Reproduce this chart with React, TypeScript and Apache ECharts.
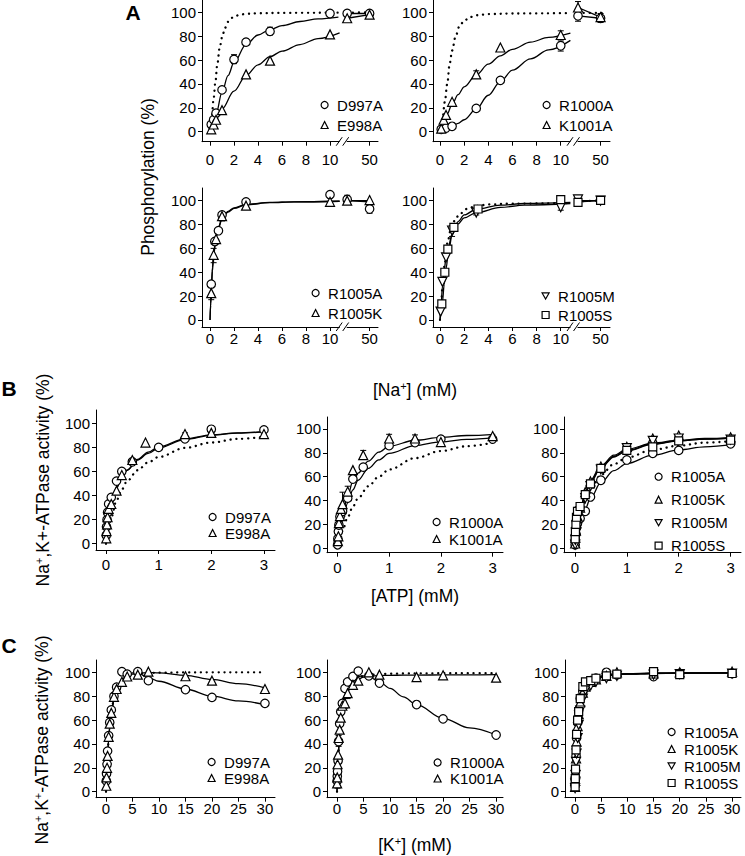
import React, { useEffect, useRef } from 'react';
import * as echarts from 'echarts';

// ---------------- tick values ----------------
const pctTicks = [0, 20, 40, 60, 80, 100];
const naTicks = [0, 2, 4, 6, 8, 10, 50];
const atpTicks = [0, 1, 2, 3];
const kTicks = [0, 5, 10, 15, 20, 25, 30];

// ---------------- Panel A : phosphorylation vs [Na+] ----------------
// A1
const a1D997A_x = [0.1, 0.3, 0.5, 1, 2, 3, 5, 10, 20, 50];
const a1D997A_y = [6, 10, 15.5, 35, 60.5, 75, 84, 99, 99, 99];
const a1E998A_x = [0.1, 0.3, 0.5, 1, 3, 5, 10, 20, 50];
const a1E998A_y = [2, 6, 10, 18, 48, 59.5, 81.5, 95, 98];
const a1FitD997A_x = [0, 0.1, 0.5, 1, 1.5, 2, 3, 4, 5, 6, 7.5, 9, 10.7];
const a1FitD997A_y = [5, 6.5, 15, 33, 47, 58, 73, 81, 85.5, 88.8, 92.3, 94.5, 96];
const a1TailD997A_x = [20, 50];
const a1TailD997A_y = [99, 99];
const a1FitE998A_x = [0, 0.5, 1, 2, 3, 4, 5, 6, 7.5, 9, 10.8];
const a1FitE998A_y = [2, 10, 19, 34, 47, 56, 62.8, 67.5, 73, 78, 82.8];
const a1TailE998A_x = [20, 50];
const a1TailE998A_y = [95, 98];
const a1WT_x = [0, 0.15, 0.3, 0.45, 0.6, 0.8, 1, 1.25, 1.5, 2, 2.5, 3, 4, 6, 10.8];
const a1WT_y = [0, 13, 28, 42, 56, 70, 79, 87, 92, 96.5, 98, 98.7, 99.2, 99.5, 99.7];
const a1TailWT_x = [20, 50, 58];
const a1TailWT_y = [99.7, 100, 100];
// error bars [x, low, high]
const a1Err = [[2, 57, 64.5], [3, 72.5, 77.5], [5, 81, 87.5], [50, 96, 100.5]];

// A2
const a2R1000A_x = [0.1, 0.5, 1, 3, 5, 10, 20, 50];
const a2R1000A_y = [2, 3, 4.5, 19.5, 43, 72, 97, 95];
const a2K1001A_x = [0.1, 0.3, 0.5, 1, 3, 5, 10, 20, 50];
const a2K1001A_y = [2.5, 10, 14, 25, 48, 70.5, 81, 104, 96];
const a2FitR1000A_x = [0, 0.5, 1, 1.5, 2, 3, 4, 5, 6, 7.5, 9, 10.8];
const a2FitR1000A_y = [1.5, 2.5, 4.5, 7, 10, 19, 30.5, 42, 51.5, 61, 68.5, 76.5];
const a2TailR1000A_x = [20, 50];
const a2TailR1000A_y = [97, 95];
const a2FitK1001A_x = [0, 0.3, 0.6, 1, 1.5, 2, 3, 4, 5, 6, 7.5, 9, 10.8];
const a2FitK1001A_y = [2, 9, 15, 23, 31, 37.5, 47.5, 56.5, 63.5, 69, 75, 79, 82.5];
const a2TailK1001A_x = [20, 50];
const a2TailK1001A_y = [104, 96];
const a2WT_x = [0, 0.2, 0.4, 0.6, 0.8, 1, 1.3, 1.6, 2, 2.5, 3, 4, 6, 10.8];
const a2WT_y = [0, 10, 25, 40, 57, 68, 80, 88, 93, 96, 97.5, 98.5, 99, 99.3];
const a2TailWT_x = [20, 50, 58];
const a2TailWT_y = [99.5, 99.5, 99.5];
const a2Err = [[10, 67.5, 76], [10, 77.5, 84.5], [3, 45, 51], [20, 92.5, 101], [20, 99, 109], [50, 91.5, 99]];

// A3
const a3R1005A_x = [0.1, 0.4, 0.7, 1, 3, 10, 20, 50];
const a3R1005A_y = [30, 65.8, 74.8, 88, 98.9, 105, 101, 93];
const a3R1005K_x = [0.1, 0.3, 0.5, 1, 3, 10, 20, 50];
const a3R1005K_y = [22.5, 54.6, 67.8, 87, 95.8, 99, 100, 100.5];
const a3Fit_x = [0, 0.05, 0.1, 0.2, 0.3, 0.5, 0.7, 1, 1.5, 2, 3, 5, 7, 10.8];
const a3FitR1005A_y = [0, 14, 26, 44, 56, 70, 78, 85, 91, 94, 97, 98.5, 99, 99.5];
const a3FitR1005K_y = [0, 12, 23, 41, 54, 69, 77, 84.5, 90.5, 93.5, 96.5, 98.3, 99, 99.5];
const a3Tail_x = [20, 50];
const a3TailR1005A_y = [100, 99];
const a3TailR1005K_y = [100, 100];
const a3Err = [[0.1, 17, 27], [0.3, 48, 60], [1, 83, 90], [20, 97, 104.5], [50, 89.5, 96]];

// A4
const a4R1005M_x = [0.05, 0.2, 0.5, 1, 3, 10, 20, 50];
const a4R1005M_y = [7, 32, 52.5, 75, 90, 94.5, 101, 100];
const a4R1005S_x = [0.15, 0.4, 0.65, 1.15, 3.15, 10, 20, 50];
const a4R1005S_y = [13.4, 40, 59.4, 77.6, 93, 100.8, 98.6, 100.3];
const a4Fit_x = [0, 0.1, 0.2, 0.35, 0.5, 0.7, 1, 1.5, 2, 3, 5, 7, 10.8];
const a4FitR1005M_y = [0, 14, 28, 42, 52, 62, 72, 80.5, 85.5, 90, 94.3, 96.3, 97.6];
const a4FitR1005S_y = [0, 6, 15, 30, 43, 57, 71, 82.5, 88, 92.8, 96.2, 97.6, 98.5];
const a4WT_x = [0, 0.1, 0.2, 0.4, 0.6, 0.9, 1.2, 1.6, 2.2, 3, 4, 6, 10.8];
const a4WT_y = [0, 14, 28, 48, 64, 76, 83, 88.5, 93, 95.5, 96.8, 97.5, 98];
const a4Tail_x = [20, 50];
const a4TailR1005M_y = [100, 100];
const a4TailR1005S_y = [99, 100];
const a4TailWT_x = [20, 50, 58];
const a4TailWT_y = [99.5, 100, 100];
const a4Err = [[1, 70, 79], [3, 88, 92], [10, 92, 97.5], [20, 96, 104]];

// ---------------- Panel B : activity vs [ATP] ----------------
const atpConc = [0.005, 0.01, 0.02, 0.03, 0.05, 0.1, 0.2, 0.3, 0.5, 1, 1.5, 2, 3];
const b1D997A_y = [7, 14, 20, 26, 33, 38.5, 52, 60, 68, 80, 87, 95, 94.5];
const b1E998A_x = [0.005, 0.01, 0.02, 0.03, 0.05, 0.1, 0.2, 0.3, 0.5, 0.75, 1.5, 2, 3];
const b1E998A_y = [4.5, 10.5, 16, 22, 29, 33, 44, 57, 69.5, 84, 91, 92, 91];
const bFit_x = [0, 0.05, 0.1, 0.2, 0.3, 0.4, 0.6, 0.8, 1, 1.5, 2, 2.5, 3.05];
const b1FitD997A_y = [0, 22, 33, 47, 55, 61, 69.5, 75, 79.5, 86.5, 90, 91.8, 93];
const b1FitE998A_y = [0, 20, 31, 46, 55, 61, 70, 76, 80.5, 87, 90.3, 92, 93.2];
const b1WT_y = [0, 12, 22, 36, 45, 52, 61, 67.5, 72, 79.5, 84, 87, 89];
const b1Err = [[0.005, 2, 7], [1.5, 86, 92], [2, 91, 97]];

const b2R1000A_y = [3, 8, 14, 19.5, 26.5, 31, 42, 58, 68, 86, 88.5, 91.5, 91.5];
const b2K1001A_x = [0.01, 0.02, 0.03, 0.05, 0.07, 0.1, 0.2, 0.3, 0.5, 1, 1.5, 2, 3];
const b2K1001A_y = [6, 10, 21, 27, 33, 37, 47.5, 65.5, 78, 92, 92, 89, 94];
const b2FitR1000A_y = [0, 13, 23, 38, 49, 57, 67, 74, 79.5, 86, 89.2, 91.3, 93];
const b2FitK1001A_y = [0, 16, 28, 44, 56, 63, 73, 80.5, 85.5, 90.5, 93, 94.5, 95.5];
const b2WT_y = [0, 8, 15, 26, 35, 42, 52, 60, 66, 75.5, 81.5, 85.5, 89];
const b2Err = [[0.1, 27, 47], [0.2, 42, 52], [0.5, 74.5, 82], [1, 88.5, 95.5], [1.5, 89, 95]];

const b3R1005A_y = [3, 7, 12, 17, 21, 25, 31, 43, 57, 74, 79.6, 82, 87.5];
const b3R1005K_y = [4, 9, 15, 21, 27, 34, 47, 56, 68.5, 85, 92, 94.5, 93];
const b3R1005M_y = [3, 7, 13, 19, 25, 31, 42, 52, 66, 84, 90, 92, 91];
const b3R1005S_y = [8, 14, 20, 26, 31, 35, 45, 54, 67, 82, 85, 90, 90.5];
const b3Fit_x = [0, 0.05, 0.1, 0.2, 0.3, 0.5, 0.75, 1, 1.5, 2, 2.5, 3.06];
const b3FitR1005A_y = [0, 11, 20, 33, 42, 55, 65, 71, 78, 82.5, 85, 87];
const b3FitR1005K_y = [0, 20, 32, 47, 57, 69, 78, 83, 88, 90.5, 92, 93];
const b3FitR1005M_y = [0, 18, 30, 45, 55, 67.5, 76.5, 81.5, 87, 90, 91.5, 92.5];
const b3FitR1005S_y = [0, 19, 31, 46, 56, 68, 77, 82, 87.5, 90, 91.5, 92.3];
const b3WT_y = [0, 14, 25, 39, 49, 61.5, 70.5, 76, 82.5, 86, 88.5, 90];

// ---------------- Panel C : activity vs [K+] ----------------
const c1Conc = [0.05, 0.1, 0.2, 0.3, 0.5, 0.7, 1, 1.5, 2, 3, 4, 6, 8, 15, 20, 30];
const c1D997A_y = [9, 15, 23, 34, 47, 58, 68.5, 80, 87.5, 100.5, 98.5, 100.5, 93, 85.5, 79, 74];
const c1E998A_y = [5, 12, 20, 30, 46, 57, 66, 79.5, 86, 92, 96.5, 98, 100.5, 96.7, 93, 86];
const cFit_x = [0, 0.25, 0.5, 0.75, 1, 1.5, 2, 3, 4, 5, 6, 8, 10, 15, 20, 25, 30];
const c1FitD997A_y = [0, 26, 44, 57, 66, 78, 85.5, 94, 98, 99.5, 99.3, 95.5, 92.5, 86, 80, 76, 73];
const c1FitE998A_y = [0, 25, 43, 56, 65, 77, 85, 93, 96.5, 98.5, 99.3, 99.8, 99.5, 97.5, 94, 90.5, 87];
const c1WT_y = [0, 25, 44, 57, 66, 78, 85.5, 93, 96.5, 98, 98.8, 99.5, 99.7, 99.9, 100, 100, 100];

const kConc = [0.02, 0.05, 0.1, 0.2, 0.3, 0.5, 0.7, 1, 1.5, 2, 3, 4, 6, 8, 15, 20, 30];
const c2R1000A_y = [9, 13, 17, 26, 42, 57, 67, 74, 86.5, 92, 96.5, 101, 97, 91, 73, 61, 47.5];
const c2K1001A_y = [7, 12, 23, 31, 45, 52, 62, 72, 74, 82.5, 89.5, 93, 100, 98, 96, 97.5, 95.5];
const c2Fit_x = [0, 0.25, 0.5, 0.75, 1, 1.5, 2, 3, 4, 5, 6, 8, 10, 12.5, 15, 20, 25, 30];
const c2FitR1000A_y = [0, 33, 52, 64, 72, 82, 88, 94, 96.5, 97, 96.3, 92, 86.5, 79.5, 73, 61.5, 53.5, 47.5];
const c2FitK1001A_y = [0, 30, 48, 60, 68.5, 78.5, 84.5, 91, 94.3, 96, 96.8, 97.3, 97.5, 97.6, 97.7, 97.8, 97.9, 98];
const c2WT_y = [0, 31, 50, 62, 70.5, 80.5, 86.5, 92.5, 95.5, 97, 97.8, 98.5, 98.8, 99, 99.1, 99.2, 99.3, 99.3];
const c2Err = [[0.1, 3, 12], [0.3, 38, 47], [1.5, 70, 78], [2, 78, 86]];

const c3R1005A_y = [5, 10, 18, 30, 45, 58, 68, 78, 84, 90, 93, 95, 100, 98, 96.5, 99, 99];
const c3R1005K_y = [4, 9, 16, 28, 42, 55, 65, 75, 83, 88, 92, 94, 97, 100, 99, 100, 100.5];
const c3R1005M_y = [3, 7, 14, 25, 32, 45, 56, 68, 78, 85, 89, 92, 95, 97, 98, 98.5, 99];
const c3R1005S_y = [4, 11, 19, 35, 48, 60, 67, 78, 88, 92, 93, 95, 97, 98.5, 100.5, 98, 99];
const c3Fit_x = [0, 0.25, 0.5, 0.75, 1, 1.5, 2, 3, 4, 6, 8, 10, 15, 20, 30];
const c3FitR1005A_y = [0, 33, 52, 64, 72, 82, 87.5, 93, 95.5, 97.5, 98.3, 98.7, 99.2, 99.4, 99.6];
const c3FitR1005K_y = [0, 31, 50, 62, 70.5, 80.5, 86.5, 92, 95, 97.3, 98.2, 98.6, 99.1, 99.3, 99.5];
const c3FitR1005M_y = [0, 29, 47, 59, 67.5, 78, 84.5, 91, 94.3, 97, 98, 98.5, 99, 99.2, 99.4];
const c3FitR1005S_y = [0, 34, 54, 66, 74, 83.5, 88.5, 93.5, 96, 97.8, 98.5, 98.8, 99.2, 99.4, 99.6];

// ---------------- rendering helpers ----------------
const FONT = "'Liberation Sans', Arial, Helvetica, sans-serif";

// broken [Na+] axis: 0-11 linear, then 20..50 compressed after the break
function naPos(x: number) {
  return x <= 11 ? x : 11.43 + (x - 20) * (1.87 / 30);
}
const ident = (x: number) => x;

const SYM_STYLE = { color: '#fff', borderColor: '#000', borderWidth: 1.2, opacity: 1 };
const ICON: Record<string, string> = {
  circle: 'circle',
  triangle: 'triangle',
  down: 'path://M0,0L10,0L5,8.7Z',
  rect: 'rect',
};

function pts(xs: number[], ys: number[], f: (x: number) => number) {
  return xs.map((x, i) => [f(x), ys[i]]);
}

function scatter(name: string, gi: number, xs: number[], ys: number[], sym: string, f = ident) {
  return {
    type: 'scatter',
    name,
    xAxisIndex: gi,
    yAxisIndex: gi,
    data: pts(xs, ys, f),
    symbol: sym === 'down' ? 'triangle' : sym,
    symbolRotate: sym === 'down' ? 180 : 0,
    symbolSize: sym === 'rect' ? 8 : sym === 'circle' ? 8.5 : 9,
    itemStyle: SYM_STYLE,
    z: 5,
    silent: true,
  };
}

function curve(gi: number, xs: number[], ys: number[], dotted = false, f = ident) {
  return {
    type: 'line',
    xAxisIndex: gi,
    yAxisIndex: gi,
    data: pts(xs, ys, f),
    showSymbol: false,
    symbol: 'none',
    smooth: 0.35,
    smoothMonotone: 'x',
    lineStyle: dotted
      ? { color: '#000', width: 2.3, type: [0.1, 5.8], cap: 'round' }
      : { color: '#000', width: 1.3 },
    z: 3,
    silent: true,
  };
}

function errorBars(gi: number, rows: number[][], f = ident) {
  return {
    type: 'custom',
    xAxisIndex: gi,
    yAxisIndex: gi,
    silent: true,
    z: 4,
    data: rows.map((r) => [f(r[0]), r[1], r[2]]),
    encode: { x: 0, y: [1, 2] },
    renderItem: (_params: any, api: any) => {
      const x = api.value(0);
      const lo = api.coord([x, api.value(1)]);
      const hi = api.coord([x, api.value(2)]);
      const st = { stroke: '#000', lineWidth: 1 };
      return {
        type: 'group',
        children: [
          { type: 'line', shape: { x1: lo[0], y1: lo[1], x2: hi[0], y2: hi[1] }, style: st },
          { type: 'line', shape: { x1: hi[0] - 3, y1: hi[1], x2: hi[0] + 3, y2: hi[1] }, style: st },
          { type: 'line', shape: { x1: lo[0] - 3, y1: lo[1], x2: lo[0] + 3, y2: lo[1] }, style: st },
        ],
      };
    },
  };
}

type Panel = {
  left: number; top: number; width: number; height: number;
  xMin: number; xMax: number; yMin: number; yMax: number;
  xTicks: number[]; xMargin: number; na?: boolean;
};

const panels: Panel[] = [
  { left: 202, top: 0, width: 176, height: 141.7, xMin: -0.67, xMax: 14, yMin: -8.4, yMax: 110.3, xTicks: naTicks, xMargin: 10, na: true },
  { left: 433, top: 0, width: 177, height: 141.7, xMin: -0.58, xMax: 14.08, yMin: -8.4, yMax: 110.3, xTicks: naTicks, xMargin: 10, na: true },
  { left: 202, top: 188, width: 176, height: 139, xMin: -0.67, xMax: 14, yMin: -5.9, yMax: 110.6, xTicks: naTicks, xMargin: 4, na: true },
  { left: 433, top: 188, width: 177, height: 139, xMin: -0.58, xMax: 14.08, yMin: -5.9, yMax: 110.6, xTicks: naTicks, xMargin: 4, na: true },
  { left: 96, top: 410, width: 179, height: 140, xMin: -0.19, xMax: 3.21, yMin: -5.2, yMax: 111, xTicks: atpTicks, xMargin: 7 },
  { left: 327, top: 417, width: 176, height: 135.7, xMin: -0.2, xMax: 3.2, yMin: -3.7, yMax: 110, xTicks: atpTicks, xMargin: 7 },
  { left: 564, top: 417, width: 177, height: 135.7, xMin: -0.21, xMax: 3.2, yMin: -3.7, yMax: 110, xTicks: atpTicks, xMargin: 7 },
  { left: 96, top: 660, width: 179, height: 137.7, xMin: -1.89, xMax: 31.9, yMin: -5, yMax: 110.3, xTicks: kTicks, xMargin: 3 },
  { left: 327, top: 660, width: 176, height: 137.7, xMin: -1.89, xMax: 31.3, yMin: -5, yMax: 110.3, xTicks: kTicks, xMargin: 3 },
  { left: 565, top: 660, width: 176, height: 137.7, xMin: -1.91, xMax: 31.7, yMin: -5, yMax: 110.3, xTicks: kTicks, xMargin: 3 },
];

const legends = [
  { x: 324, y: 105, gap: 20, items: [['D997A', 'circle'], ['E998A', 'triangle']] },
  { x: 546, y: 105, gap: 20, items: [['R1000A', 'circle'], ['K1001A', 'triangle']] },
  { x: 315, y: 293, gap: 20, items: [['R1005A', 'circle'], ['R1005K', 'triangle']] },
  { x: 545, y: 296, gap: 19, items: [['R1005M', 'down'], ['R1005S', 'rect']] },
  { x: 212, y: 517, gap: 16, items: [['D997A', 'circle'], ['E998A', 'triangle']] },
  { x: 436, y: 522, gap: 17, items: [['R1000A', 'circle'], ['K1001A', 'triangle']] },
  { x: 658, y: 476.7, gap: 23, items: [['R1005A', 'circle'], ['R1005K', 'triangle'], ['R1005M', 'down'], ['R1005S', 'rect']] },
  { x: 211, y: 762, gap: 16, items: [['D997A', 'circle'], ['E998A', 'triangle']] },
  { x: 437, y: 762.5, gap: 16, items: [['R1000A', 'circle'], ['K1001A', 'triangle']] },
  { x: 671, y: 732, gap: 17, items: [['R1005A', 'circle'], ['R1005K', 'triangle'], ['R1005M', 'down'], ['R1005S', 'rect']] },
];

const LEG_FONT = 15;
const LEG_H = 16;

function buildOption() {
  const grid = panels.map((p) => ({
    left: p.left, top: p.top, width: p.width, height: p.height,
    containLabel: false, outerBoundsMode: 'none',
  }));
  const xAxis = panels.map((p, i) => {
    const vals = p.na ? p.xTicks.map(naPos) : p.xTicks;
    return {
      type: 'value', gridIndex: i, min: p.xMin, max: p.xMax,
      axisLine: { show: true, onZero: false, lineStyle: { color: '#000', width: 1 } },
      axisTick: { show: true, length: 4, customValues: vals, lineStyle: { color: '#000', width: 1 } },
      axisLabel: {
        customValues: vals, color: '#000', fontSize: 15, fontFamily: FONT, margin: p.xMargin,
        formatter: (v: number) => (p.na && v > 11 ? '50' : String(Math.round(v))),
      },
      splitLine: { show: false },
    };
  });
  const yAxis = panels.map((p, i) => ({
    type: 'value', gridIndex: i, min: p.yMin, max: p.yMax,
    axisLine: { show: true, onZero: false, lineStyle: { color: '#000', width: 1 } },
    axisTick: { show: true, length: 4, customValues: pctTicks, lineStyle: { color: '#000', width: 1 } },
    axisLabel: { customValues: pctTicks, color: '#000', fontSize: 15, fontFamily: FONT, margin: 6 },
    splitLine: { show: false },
  }));

  const series: any[] = [
    // A1
    curve(0, a1WT_x, a1WT_y, true, naPos),
    curve(0, a1TailWT_x, a1TailWT_y, true, naPos),
    curve(0, a1FitD997A_x, a1FitD997A_y, false, naPos),
    curve(0, a1TailD997A_x, a1TailD997A_y, false, naPos),
    curve(0, a1FitE998A_x, a1FitE998A_y, false, naPos),
    curve(0, a1TailE998A_x, a1TailE998A_y, false, naPos),
    errorBars(0, a1Err, naPos),
    scatter('D997A', 0, a1D997A_x, a1D997A_y, 'circle', naPos),
    scatter('E998A', 0, a1E998A_x, a1E998A_y, 'triangle', naPos),
    // A2
    curve(1, a2WT_x, a2WT_y, true, naPos),
    curve(1, a2TailWT_x, a2TailWT_y, true, naPos),
    curve(1, a2FitR1000A_x, a2FitR1000A_y, false, naPos),
    curve(1, a2TailR1000A_x, a2TailR1000A_y, false, naPos),
    curve(1, a2FitK1001A_x, a2FitK1001A_y, false, naPos),
    curve(1, a2TailK1001A_x, a2TailK1001A_y, false, naPos),
    errorBars(1, a2Err, naPos),
    scatter('R1000A', 1, a2R1000A_x, a2R1000A_y, 'circle', naPos),
    scatter('K1001A', 1, a2K1001A_x, a2K1001A_y, 'triangle', naPos),
    // A3
    curve(2, a3Fit_x, a3FitR1005A_y, false, naPos),
    curve(2, a3Fit_x, a3FitR1005K_y, false, naPos),
    curve(2, a3Tail_x, a3TailR1005A_y, false, naPos),
    curve(2, a3Tail_x, a3TailR1005K_y, false, naPos),
    errorBars(2, a3Err, naPos),
    scatter('R1005A', 2, a3R1005A_x, a3R1005A_y, 'circle', naPos),
    scatter('R1005K', 2, a3R1005K_x, a3R1005K_y, 'triangle', naPos),
    // A4
    curve(3, a4WT_x, a4WT_y, true, naPos),
    curve(3, a4TailWT_x, a4TailWT_y, true, naPos),
    curve(3, a4Fit_x, a4FitR1005M_y, false, naPos),
    curve(3, a4Fit_x, a4FitR1005S_y, false, naPos),
    curve(3, a4Tail_x, a4TailR1005M_y, false, naPos),
    curve(3, a4Tail_x, a4TailR1005S_y, false, naPos),
    errorBars(3, a4Err, naPos),
    scatter('R1005M', 3, a4R1005M_x, a4R1005M_y, 'down', naPos),
    scatter('R1005S', 3, a4R1005S_x, a4R1005S_y, 'rect', naPos),
    // B1
    curve(4, bFit_x, b1WT_y, true),
    curve(4, bFit_x, b1FitD997A_y),
    curve(4, bFit_x, b1FitE998A_y),
    errorBars(4, b1Err),
    scatter('D997A', 4, atpConc, b1D997A_y, 'circle'),
    scatter('E998A', 4, b1E998A_x, b1E998A_y, 'triangle'),
    // B2
    curve(5, bFit_x, b2WT_y, true),
    curve(5, bFit_x, b2FitR1000A_y),
    curve(5, bFit_x, b2FitK1001A_y),
    errorBars(5, b2Err),
    scatter('R1000A', 5, atpConc, b2R1000A_y, 'circle'),
    scatter('K1001A', 5, b2K1001A_x, b2K1001A_y, 'triangle'),
    // B3
    curve(6, b3Fit_x, b3WT_y, true),
    curve(6, b3Fit_x, b3FitR1005A_y),
    curve(6, b3Fit_x, b3FitR1005K_y),
    curve(6, b3Fit_x, b3FitR1005M_y),
    curve(6, b3Fit_x, b3FitR1005S_y),
    scatter('R1005A', 6, atpConc, b3R1005A_y, 'circle'),
    scatter('R1005K', 6, atpConc, b3R1005K_y, 'triangle'),
    scatter('R1005M', 6, atpConc, b3R1005M_y, 'down'),
    scatter('R1005S', 6, atpConc, b3R1005S_y, 'rect'),
    // C1
    curve(7, cFit_x, c1WT_y, true),
    curve(7, cFit_x, c1FitD997A_y),
    curve(7, cFit_x, c1FitE998A_y),
    scatter('D997A', 7, c1Conc, c1D997A_y, 'circle'),
    scatter('E998A', 7, c1Conc, c1E998A_y, 'triangle'),
    // C2
    curve(8, c2Fit_x, c2WT_y, true),
    curve(8, c2Fit_x, c2FitR1000A_y),
    curve(8, c2Fit_x, c2FitK1001A_y),
    errorBars(8, c2Err),
    scatter('R1000A', 8, kConc, c2R1000A_y, 'circle'),
    scatter('K1001A', 8, kConc, c2K1001A_y, 'triangle'),
    // C3
    curve(9, c3Fit_x, c3FitR1005A_y),
    curve(9, c3Fit_x, c3FitR1005K_y),
    curve(9, c3Fit_x, c3FitR1005M_y),
    curve(9, c3Fit_x, c3FitR1005S_y),
    scatter('R1005A', 9, kConc, c3R1005A_y, 'circle'),
    scatter('R1005K', 9, kConc, c3R1005K_y, 'triangle'),
    scatter('R1005M', 9, kConc, c3R1005M_y, 'down'),
    scatter('R1005S', 9, kConc, c3R1005S_y, 'rect'),
  ];

  const legend = legends.map((l) => ({
    orient: 'vertical',
    left: l.x - 3.5,
    top: l.y - LEG_H / 2,
    padding: 0,
    itemWidth: 7,
    itemHeight: 7,
    itemGap: l.gap - LEG_H,
    selectedMode: false,
    textStyle: { fontSize: LEG_FONT, fontFamily: FONT, color: '#000', lineHeight: LEG_H, padding: [0, 0, 0, 4] },
    itemStyle: { color: '#fff', borderColor: '#000', borderWidth: 1.2, opacity: 1 },
    data: l.items.map(([name, sym]) => ({ name, icon: ICON[sym] })),
  }));

  const sup = { fontSize: 11, fontFamily: FONT, verticalAlign: 'top', lineHeight: 11 };
  const titleStyle = (text: string) => ({
    text, fontSize: 17.5, fontFamily: FONT, fill: '#000', lineHeight: 20,
    align: 'center', verticalAlign: 'middle', textAlign: 'center', textVerticalAlign: 'middle',
    rich: { s: sup },
  });
  const letterStyle = (text: string) => ({
    text, fontSize: 21, fontWeight: 'bold', fontFamily: FONT, fill: '#000',
    align: 'center', verticalAlign: 'middle', textAlign: 'center', textVerticalAlign: 'middle',
  });

  const graphic = [
    { type: 'text', id: 'letA', x: 133, y: 12, style: letterStyle('A') },
    { type: 'text', id: 'letB', x: 9, y: 388, style: letterStyle('B') },
    { type: 'text', id: 'letC', x: 9, y: 645, style: letterStyle('C') },
    { type: 'text', id: 'xNa', x: 415, y: 390, style: titleStyle('[Na{s|+}] (mM)') },
    { type: 'text', id: 'xATP', x: 415, y: 596, style: titleStyle('[ATP] (mM)') },
    { type: 'text', id: 'xK', x: 415, y: 845, style: titleStyle('[K{s|+}] (mM)') },
    { type: 'text', id: 'yA', x: 148, y: 177, rotation: Math.PI / 2, style: titleStyle('Phosphorylation (%)') },
    { type: 'text', id: 'yB', x: 43, y: 480, rotation: Math.PI / 2, style: titleStyle('Na{s|+},K+-ATPase activity (%)') },
    { type: 'text', id: 'yC', x: 42, y: 740, rotation: Math.PI / 2, style: titleStyle('Na{s|+},K{s|+}-ATPase activity (%)') },
  ];

  return {
    animation: false,
    backgroundColor: '#fff',
    grid, xAxis, yAxis, series, legend,
    graphic: { elements: graphic },
  };
}

export default function App() {
  const ref = useRef<HTMLDivElement>(null);
  useEffect(() => {
    if (!ref.current) return;
    const chart = echarts.init(ref.current, null, { renderer: 'svg' });
    chart.setOption(buildOption() as any);
    // axis-break marks on the four [Na+] axes
    const breaks: any[] = [];
    [0, 1, 2, 3].forEach((i) => {
      const p = panels[i];
      const pt = chart.convertToPixel({ xAxisIndex: i, yAxisIndex: i } as any, [11.1, p.yMin]) as number[];
      if (!pt) return;
      const [bx, by] = pt;
      breaks.push({ type: 'rect', id: 'brk-gap-' + i, shape: { x: bx - 3.5, y: by - 2, width: 7, height: 4 }, style: { fill: '#fff' }, z: 100 });
      breaks.push({ type: 'line', id: 'brk-a-' + i, shape: { x1: bx - 7, y1: by + 4, x2: bx - 1, y2: by - 4.5 }, style: { stroke: '#000', lineWidth: 1 }, z: 101 });
      breaks.push({ type: 'line', id: 'brk-b-' + i, shape: { x1: bx - 0.5, y1: by + 4, x2: bx + 5.5, y2: by - 4.5 }, style: { stroke: '#000', lineWidth: 1 }, z: 101 });
    });
    chart.setOption({ graphic: { elements: breaks } } as any);
    return () => chart.dispose();
  }, []);
  return (
    <div
      ref={ref}
      style={{ position: 'absolute', left: 0, top: 0, width: 745, height: 856, background: '#fff' }}
    />
  );
}
